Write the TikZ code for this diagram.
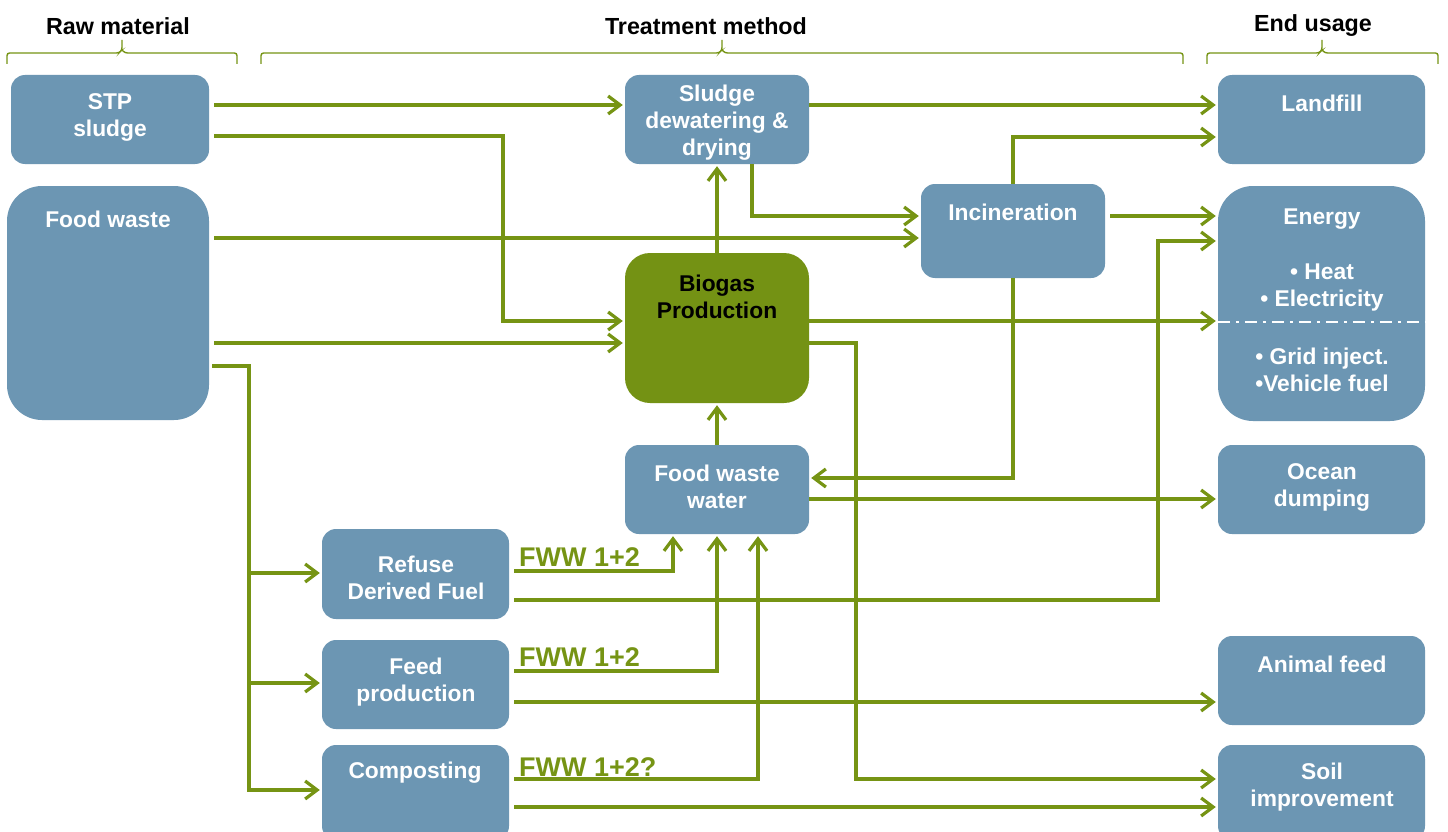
\documentclass[tikz,border=0pt]{standalone}
\usepackage{fontspec}
\setmainfont{Liberation Sans}
\usetikzlibrary{arrows.meta}
\definecolor{boxblue}{RGB}{108,150,179}
\definecolor{arrgreen}{RGB}{118,148,20}
\definecolor{biogreen}{RGB}{116,146,20}
\begin{document}
\begin{tikzpicture}[x=1pt,y=-1pt,
  box/.style={fill=boxblue, rounded corners=14pt, inner sep=0pt, draw=none},
  lbl/.style={text=white, font=\fontsize{22.8}{27}\selectfont\bfseries, align=center, inner sep=0pt},
  head/.style={text=black, font=\fontsize{23.3}{26}\selectfont\bfseries, inner sep=0pt},
  fwwlbl/.style={text=arrgreen, font=\fontsize{27}{30}\selectfont\bfseries, inner sep=0pt, anchor=west},
  brace/.style={draw=arrgreen, line width=1.4pt, rounded corners=2.5pt},
  ln/.style={draw=arrgreen, line width=3.2pt},
  trunk/.style={draw=arrgreen, line width=4pt, line cap=rect},
  arr/.style={ln, -{Straight Barb[length=12pt,width=18pt]}, shorten >=2pt},
  gapstart/.style={shorten <=5pt},
  dashdot/.style={draw=white, line width=2.4pt, dash pattern=on 12pt off 6pt on 3pt off 6pt}
]
\path[use as bounding box] (0,0) rectangle (1448,832);
\clip (0,0) rectangle (1448,832);
\fill[white] (0,0) rectangle (1448,832);

% headings
\node[head] (hraw) at (118,26) {Raw material};
\node[head] (htreat) at (706,26) {Treatment method};
\node[head] (hend) at (1313,26) {End usage};

% braces
\draw[brace] (7,64) -- (7,53) -- (119,53) -- (122,50) -- (122,40);
\draw[brace] (122,50) -- (125,53) -- (237,53) -- (237,64);
\draw[brace] (261,64) -- (261,53) -- (719,53) -- (722,50) -- (722,40);
\draw[brace] (722,50) -- (725,53) -- (1183,53) -- (1183,64);
\draw[brace] (1207,64) -- (1207,53) -- (1319,53) -- (1322,50) -- (1322,40);
\draw[brace] (1322,50) -- (1325,53) -- (1438,53) -- (1438,64);

% boxes
\node[box, minimum width=198pt, minimum height=89pt] (stp) at (110,119.5) {};
\node[box, rounded corners=35pt, minimum width=202pt, minimum height=234pt] (fw) at (108,303) {};
\node[box, minimum width=184pt, minimum height=89pt] (sdd) at (717,119.5) {};
\node[box, minimum width=184pt, minimum height=94pt] (inc) at (1013,231) {};
\node[box, fill=biogreen, rounded corners=25pt, minimum width=184pt, minimum height=150pt] (bio) at (717,328) {};
\node[box, minimum width=184pt, minimum height=89pt] (fww) at (717,489.5) {};
\node[box, minimum width=187pt, minimum height=90pt] (rdf) at (415.5,574) {};
\node[box, minimum width=187pt, minimum height=89pt] (feed) at (415.5,684.5) {};
\node[box, minimum width=187pt, minimum height=95pt] (comp) at (415.5,792.5) {};
\node[box, minimum width=207pt, minimum height=89pt] (land) at (1321.5,119.5) {};
\node[box, rounded corners=35pt, minimum width=207pt, minimum height=235pt] (en) at (1321.5,303.5) {};
\node[box, minimum width=207pt, minimum height=89pt] (ocean) at (1321.5,489.5) {};
\node[box, minimum width=207pt, minimum height=89pt] (animal) at (1321.5,680.5) {};
\node[box, minimum width=207pt, minimum height=95pt] (soil) at (1321.5,792.5) {};

% box texts
\node[lbl] (stpT) at (110,117) {STP\\sludge};
\node[lbl] (fwT) at (108,219) {Food waste};
\node[lbl] (sddT) at (717,123) {Sludge\\dewatering \&\\drying};
\node[lbl] (incT) at (1013,212) {Incineration};
\node[lbl, text=black] (bioT) at (717,297) {Biogas\\Production};
\node[lbl] (fwwT) at (717,487) {Food waste\\water};
\node[lbl] (rdfT) at (416,578) {Refuse\\Derived Fuel};
\node[lbl] (feedT) at (416,682) {Feed\\production};
\node[lbl] (compT) at (415,773) {Composting};
\node[lbl] (landT) at (1322,103) {Landfill};
\node[lbl] (enT) at (1322,219) {Energy};
\node[lbl] (enT2) at (1322,288) {• Heat\\• Electricity};
\node[lbl] (enT3) at (1322,370) {• Grid inject.\\•Vehicle fuel};
\node[lbl] (oceanT) at (1322,487) {Ocean\\dumping};
\node[lbl] (animalT) at (1322,664) {Animal feed};
\node[lbl] (soilT) at (1322,787) {Soil\\improvement};

\draw[dashdot] (en.west |- 0,322) -- (en.east |- 0,322);

% FWW labels
\node[fwwlbl] (fww1) at (519,557) {FWW 1+2};
\node[fwwlbl] (fww2) at (519,657) {FWW 1+2};
\node[fwwlbl] (fww3) at (519,767) {FWW 1+2?};

% connectors
\draw[arr, gapstart] (stp.east |- 0,105) -- (sdd.west |- 0,105);
\draw[arr, gapstart] (stp.east |- 0,136) -- (503,136) -- (503,321) -- (bio.west |- 0,321);
\draw[arr, gapstart] (fw.east |- 0,238) -- (inc.west |- 0,238);
\draw[arr, gapstart] (fw.east |- 0,343) -- (bio.west |- 0,343);
\draw[trunk, gapstart] (fw.east |- 0,366) -- (249,366) -- (249,790);
\coordinate (j1) at (249,573);
\coordinate (j2) at (249,683);
\coordinate (j3) at (249,790);
\draw[arr] (j1) -- (rdf.west |- j1);
\draw[arr] (j2) -- (feed.west |- j2);
\draw[arr] (j3) -- (comp.west |- j3);

\draw[arr] (sdd.east |- 0,105) -- (land.west |- 0,105);
\draw[arr] (752,164) -- (752,216) -- (inc.west |- 0,216);
\draw[arr] (bio.north) -- (sdd.south);
\draw[arr] (fww.north) -- (bio.south);
\draw[arr] (inc.north) -- (1013,137) -- (land.west |- 0,137);
\draw[arr, gapstart] (inc.east |- 0,216) -- (en.west |- 0,216);
\draw[arr] (inc.south) -- (1013,478) -- (fww.east |- 0,478);
\draw[arr] (bio.east |- 0,321) -- (en.west |- 0,321);
\draw[arr] (bio.east |- 0,343) -- (856,343) -- (856,779) -- (soil.west |- 0,779);
\draw[arr] (fww.east |- 0,499) -- (ocean.west |- 0,499);

\draw[arr, gapstart] (rdf.east |- 0,571) -- (673,571) -- (673,0 |- fww.south);
\draw[arr, gapstart] (rdf.east |- 0,600) -- (1158,600) -- (1158,241) -- (en.west |- 0,241);
\draw[arr, gapstart] (feed.east |- 0,671) -- (717,671) -- (fww.south);
\draw[arr, gapstart] (feed.east |- 0,702) -- (animal.west |- 0,702);
\draw[arr, gapstart] (comp.east |- 0,779) -- (758,779) -- (758,0 |- fww.south);
\draw[arr, gapstart] (comp.east |- 0,807) -- (soil.west |- 0,807);
\end{tikzpicture}
\end{document}
